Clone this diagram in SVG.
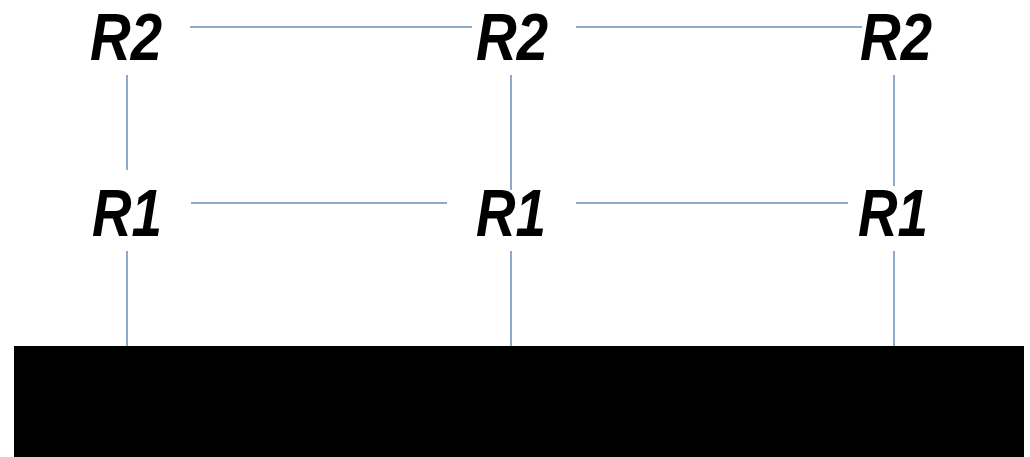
<svg xmlns="http://www.w3.org/2000/svg" width="1030" height="457" viewBox="0 0 1030 457">
<style>
.lbl{font-family:"Liberation Sans",Arial,sans-serif;font-weight:bold;font-style:italic;font-size:66px;fill:#000;text-anchor:middle}
.c{stroke:#8EA9C9;stroke-width:2;fill:none}
</style>
<rect width="1030" height="457" fill="#fff"/>
<g id="connectors">
<line class="c" x1="190" y1="27" x2="472" y2="27"/>
<line class="c" x1="576" y1="27" x2="862" y2="27"/>
<line class="c" x1="191" y1="203" x2="447" y2="203"/>
<line class="c" x1="576" y1="203" x2="848" y2="203"/>
<line class="c" x1="127" y1="75" x2="127" y2="170"/>
<line class="c" x1="511" y1="75" x2="511" y2="190"/>
<line class="c" x1="894" y1="75" x2="894" y2="186"/>
<line class="c" x1="127" y1="251" x2="127" y2="346"/>
<line class="c" x1="511" y1="251" x2="511" y2="346"/>
<line class="c" x1="894" y1="251" x2="894" y2="346"/>
</g>
<g id="n-r2-left"><text class="lbl" x="126" y="60" textLength="72" lengthAdjust="spacingAndGlyphs">R2</text></g>
<g id="n-r2-mid"><text class="lbl" x="512" y="60" textLength="72" lengthAdjust="spacingAndGlyphs">R2</text></g>
<g id="n-r2-right"><text class="lbl" x="896" y="60" textLength="72" lengthAdjust="spacingAndGlyphs">R2</text></g>
<g id="n-r1-left"><text class="lbl" x="127" y="236" textLength="70" lengthAdjust="spacingAndGlyphs">R1</text></g>
<g id="n-r1-mid"><text class="lbl" x="511" y="236" textLength="70" lengthAdjust="spacingAndGlyphs">R1</text></g>
<g id="n-r1-right"><text class="lbl" x="893" y="236" textLength="70" lengthAdjust="spacingAndGlyphs">R1</text></g>
<g id="ground"><rect x="14" y="346" width="1010" height="111" fill="#000"/></g>
</svg>
